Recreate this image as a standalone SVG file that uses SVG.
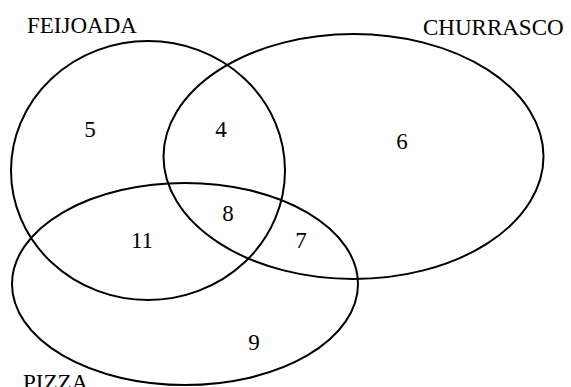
<svg xmlns="http://www.w3.org/2000/svg" width="571" height="387" viewBox="0 0 571 387">
<style>
.s{fill:none;stroke:#000;stroke-width:2}
text{font-family:"Liberation Serif","Times New Roman",serif;font-size:23px;fill:#000}
.n{text-anchor:middle}
</style>
<rect width="571" height="387" fill="#fff"/>
<g id="feijoada"><ellipse class="s" cx="148" cy="170.5" rx="137" ry="129.5"/><text x="27" y="33">FEIJOADA</text></g>
<g id="churrasco"><ellipse class="s" cx="353.5" cy="156.5" rx="190" ry="122.5"/><text x="423" y="35">CHURRASCO</text></g>
<g id="pizza"><ellipse class="s" cx="185" cy="284" rx="173" ry="101"/><text x="23" y="390">PIZZA</text></g>
<g id="connectors"></g>
<g id="counts">
<text class="n" x="90" y="137">5</text>
<text class="n" x="221" y="137">4</text>
<text class="n" x="402" y="149">6</text>
<text class="n" x="142" y="248">11</text>
<text class="n" x="228" y="221">8</text>
<text class="n" x="301" y="248">7</text>
<text class="n" x="254" y="350">9</text>
</g>
</svg>
